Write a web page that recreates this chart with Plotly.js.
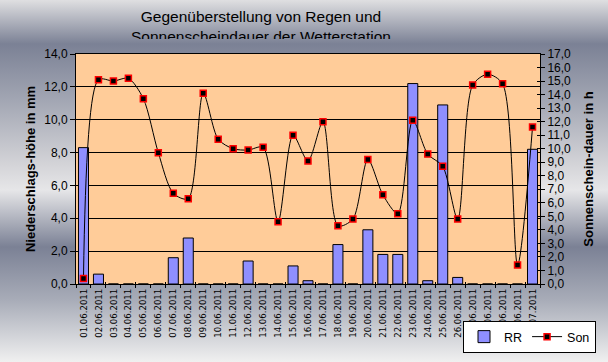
<!DOCTYPE html>
<html>
<head>
<meta charset="utf-8">
<script src="https://cdn.plot.ly/plotly-3.0.1.min.js"></script>
<style>
html, body { margin: 0; padding: 0; }
#chart {
  width: 608px; height: 362px;
  background: linear-gradient(to bottom,
    #dfdfe1 0px, #7b8195 44px, #a2a6b3 100px, #d4d4d8 165px, #e6e6e8 190px,
    #7b8195 247px, #a8acb8 300px, #f0f0f0 362px);
}
</style>
</head>
<body>
<div id="chart"></div>
<script>
const days = ['01.06.2011','02.06.2011','03.06.2011','04.06.2011','05.06.2011','06.06.2011','07.06.2011','08.06.2011','09.06.2011','10.06.2011','11.06.2011','12.06.2011','13.06.2011','14.06.2011','15.06.2011','16.06.2011','17.06.2011','18.06.2011','19.06.2011','20.06.2011','21.06.2011','22.06.2011','23.06.2011','24.06.2011','25.06.2011','26.06.2011','27.06.2011','28.06.2011','29.06.2011','30.06.2011','01.07.2011'];
const rr  = [8.3, 0.6, 0, 0, 0, 0, 1.6, 2.8, 0, 0, 0, 1.4, 0, 0, 1.1, 0.2, 0, 2.4, 0, 3.3, 1.8, 1.8, 12.2, 0.2, 10.9, 0.4, 0, 0, 0, 0, 8.2];
const son = [0.4, 15.1, 15.0, 15.2, 13.7, 9.7, 6.7, 6.3, 14.1, 10.7, 10.0, 9.9, 10.1, 4.6, 11.0, 9.1, 12.0, 4.3, 4.8, 9.2, 6.6, 5.2, 12.1, 9.6, 8.7, 4.8, 14.7, 15.5, 14.8, 1.4, 11.6];
const seriesNames = ['RR', 'Son'];
const titleText = 'Gegenüberstellung von Regen und<br>Sonnenscheindauer der Wetterstation';
const leftTitle = 'Niederschlags-höhe in mm';
const rightTitle = 'Sonnenschein-dauer in h';

const F = 'Liberation Sans, Arial, sans-serif';

const traces = [
  {
    type: 'bar', name: seriesNames[0], x: days, y: rr, xaxis: 'x', yaxis: 'y',
    marker: {
      color: '#8080ff',
      pattern: {shape: '.', fgcolor: '#0000ff', bgcolor: '#ffffff', size: 2, solidity: 0.5},
      line: {color: '#000000', width: 1}
    },
    hoverinfo: 'skip'
  },
  {
    type: 'scatter', mode: 'lines+markers', name: seriesNames[1], x: days, y: son,
    xaxis: 'x2', yaxis: 'y2',
    line: {color: '#000000', width: 1, shape: 'spline', smoothing: 0.8},
    marker: {symbol: 'square', size: 6, color: '#000000', line: {color: '#ff0000', width: 1.5}},
    hoverinfo: 'skip'
  },
  {
    type: 'scatter', mode: 'markers', x: [], y: [], xaxis: 'x2', yaxis: 'y3',
    showlegend: false, hoverinfo: 'skip'
  }
];

const layout = {
  width: 608, height: 362,
  margin: {l: 76, r: 68, t: 54, b: 78, pad: 0, autoexpand: false},
  paper_bgcolor: 'rgba(0,0,0,0)',
  plot_bgcolor: '#ffcc99',
  separators: ',.',
  font: {family: F, size: 12, color: '#000000'},
  bargap: 0.33,
  showlegend: true,
  title: {
    text: titleText,
    font: {family: F, size: 15.5, color: '#000000'},
    xref: 'container', x: 261/608, xanchor: 'center',
    yref: 'container', y: 1 - 22/362, yanchor: 'top',
    automargin: false
  },
  xaxis: {
    type: 'category', range: [-0.5, 30.5], automargin: false,
    showline: true, linecolor: '#000000', linewidth: 1, mirror: true,
    ticks: 'outside', ticklen: 3, tickcolor: '#000000', tickson: 'boundaries',
    tickangle: -90,
    tickfont: {family: 'Liberation Sans Narrow, DejaVu Sans Condensed, Arial, sans-serif', size: 9.5, color: '#000000'},
    showgrid: false, zeroline: false, fixedrange: true
  },
  xaxis2: {
    type: 'category', range: [-0.5, 30.5], overlaying: 'x', anchor: 'y', automargin: false,
    ticks: 'inside', ticklen: 2, tickcolor: '#000000', tickson: 'boundaries',
    showticklabels: false, showgrid: false, zeroline: false, showline: false
  },
  yaxis: {
    range: [0, 14], dtick: 2, tick0: 0, tickformat: '.1f', automargin: false,
    showline: true, linecolor: '#000000', linewidth: 1,
    ticks: 'outside', ticklen: 5, tickcolor: '#000000',
    showgrid: true, gridcolor: '#000000', gridwidth: 1,
    zeroline: false,
    tickfont: {family: F, size: 12, color: '#000000'},
    title: {text: leftTitle, standoff: 5, font: {family: F, size: 13, weight: 'bold', color: '#000000'}}
  },
  yaxis2: {
    range: [0, 17], dtick: 1, tick0: 0, tickformat: '.1f', automargin: false,
    overlaying: 'y', side: 'right', anchor: 'x',
    showline: true, linecolor: '#000000', linewidth: 1,
    ticks: 'outside', ticklen: 4, tickcolor: '#000000',
    showgrid: false, zeroline: false,
    tickfont: {family: F, size: 12, color: '#000000'},
    title: {text: rightTitle, standoff: 13, font: {family: F, size: 13, weight: 'bold', color: '#000000'}}
  },
  yaxis3: {
    range: [0, 17], dtick: 1, tick0: 0, automargin: false,
    overlaying: 'y', side: 'right', anchor: 'x',
    ticks: 'inside', ticklen: 3, tickcolor: '#000000',
    showticklabels: false, showgrid: false, zeroline: false, showline: false
  },
  legend: {
    orientation: 'h',
    xref: 'container', x: 596 / 608, xanchor: 'right',
    yref: 'container', y: 1 - 321 / 362, yanchor: 'top',
    bgcolor: '#ffffff', bordercolor: '#000000', borderwidth: 1,
    font: {family: F, size: 12.5, color: '#000000'},
    itemwidth: 30, tracegroupgap: 0
  }
};

Plotly.newPlot('chart', traces, layout, {displayModeBar: false, staticPlot: true}).then(function (gd) {
  const t = gd.querySelector('.g-gtitle');
  if (t) {
    const svg = t.ownerSVGElement;
    const NS = 'http://www.w3.org/2000/svg';
    let defs = svg.querySelector('defs');
    if (!defs) { defs = document.createElementNS(NS, 'defs'); svg.insertBefore(defs, svg.firstChild); }
    const cp = document.createElementNS(NS, 'clipPath');
    cp.setAttribute('id', 'titleclip');
    const r = document.createElementNS(NS, 'rect');
    r.setAttribute('x', 0); r.setAttribute('y', 0);
    r.setAttribute('width', 608); r.setAttribute('height', 39);
    cp.appendChild(r);
    defs.appendChild(cp);
    t.setAttribute('clip-path', 'url(#titleclip)');
  }
});
</script>
</body>
</html>
